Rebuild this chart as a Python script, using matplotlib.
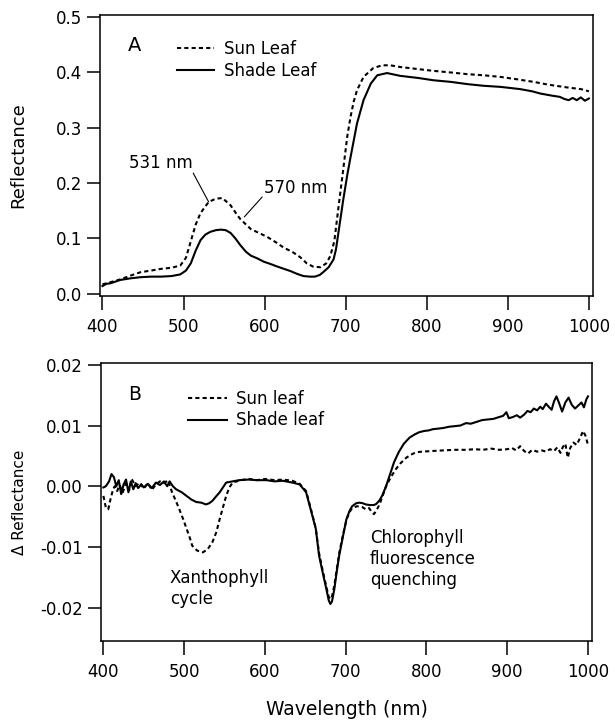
import numpy as np
import matplotlib
matplotlib.use("Agg")
import matplotlib.pyplot as plt

plt.rcParams['font.family'] = ['DejaVu Sans']
plt.rcParams['axes.unicode_minus'] = False

# ---- Panel A: reflectance spectra ----
wl_sun_a = [400, 410, 422, 435, 447, 460, 472, 485, 496, 503, 509, 515, 521, 531,
            540, 548, 558, 565, 570, 583, 593, 603, 614, 624, 634, 644, 652, 660,
            669, 676, 681, 686, 691, 697, 702, 706, 710, 714, 722, 734, 745, 755,
            767, 790, 808, 830, 850, 870, 891, 910, 932, 950, 973, 990, 1000]
refl_sun = [0.017, 0.021, 0.026, 0.033, 0.039, 0.042, 0.045, 0.047, 0.051, 0.065,
            0.095, 0.125, 0.146, 0.166, 0.172, 0.173, 0.160, 0.145, 0.135, 0.117,
            0.110, 0.103, 0.093, 0.083, 0.076, 0.066, 0.055, 0.049, 0.048, 0.055,
            0.068, 0.095, 0.155, 0.225, 0.285, 0.320, 0.348, 0.368, 0.392, 0.408,
            0.413, 0.413, 0.410, 0.406, 0.403, 0.400, 0.397, 0.395, 0.392, 0.388,
            0.383, 0.378, 0.373, 0.370, 0.366]

wl_shade_a = [400, 405, 410, 422, 435, 447, 460, 472, 485, 496, 503, 509, 515, 521,
              527, 533, 540, 546, 552, 558, 564, 570, 577, 583, 591, 599, 607, 616,
              624, 632, 640, 648, 656, 662, 668, 673, 679, 685, 688, 691, 697, 702,
              706, 714, 722, 731, 739, 751, 767, 790, 808, 830, 850, 870, 891, 915,
              930, 940, 955, 964, 970, 975, 980, 985, 990, 995, 1000]
refl_shade = [0.014, 0.018, 0.019, 0.025, 0.028, 0.030, 0.031, 0.031, 0.032, 0.035,
              0.042, 0.055, 0.078, 0.097, 0.107, 0.112, 0.115, 0.116, 0.115, 0.110,
              0.100, 0.088, 0.076, 0.069, 0.064, 0.058, 0.054, 0.049, 0.045, 0.041,
              0.036, 0.032, 0.031, 0.031, 0.034, 0.040, 0.048, 0.062, 0.080, 0.110,
              0.170, 0.215, 0.247, 0.308, 0.350, 0.380, 0.395, 0.399, 0.394, 0.390,
              0.386, 0.383, 0.379, 0.376, 0.374, 0.370, 0.366, 0.362, 0.358, 0.356,
              0.352, 0.350, 0.354, 0.350, 0.355, 0.349, 0.353]

# ---- Panel B: delta reflectance ----
wl_sun_b = [400, 403, 406, 409, 412, 414, 417, 420, 424, 428, 432, 435, 440, 445,
            450, 455, 460, 465, 470, 475, 480, 485, 490, 494, 499, 503, 507, 510,
            516, 523, 529, 535, 540, 544, 548, 552, 556, 560, 570, 580, 590, 600,
            612, 622, 634, 643, 651, 659, 663, 667, 672, 676, 679, 681, 683, 686,
            689, 692, 697, 701, 705, 708, 714, 720, 725, 729, 732, 735, 738, 742,
            746, 750, 756, 762, 768, 775, 781, 787, 795, 807, 820, 835, 849, 860,
            870, 880, 890, 900, 906, 911, 916, 921, 926, 931, 937, 943, 948, 953,
            958, 962, 966, 969, 972, 975, 978, 982, 986, 990, 994, 997, 1000]
dref_sun = [-0.0016, -0.0035, -0.0038, -0.0020, -0.0005, 0.0000, -0.0008, 0.0002,
            -0.0010, 0.0005, -0.0006, 0.0012, 0.0000, 0.0006, -0.0004, 0.0005,
            -0.0006, 0.0003, 0.0008, 0.0005, 0.0010, -0.0010, -0.0025, -0.0038,
            -0.0055, -0.0070, -0.0085, -0.0098, -0.0106, -0.0109, -0.0104, -0.0092,
            -0.0075, -0.0054, -0.0035, -0.0016, -0.0002, 0.0006, 0.0010, 0.0012,
            0.0010, 0.0012, 0.0010, 0.0011, 0.0009, 0.0004, -0.0008, -0.0048,
            -0.0070, -0.0110, -0.0142, -0.0165, -0.0182, -0.0186, -0.0182, -0.0163,
            -0.0136, -0.0110, -0.0078, -0.0055, -0.0042, -0.0036, -0.0033, -0.0034,
            -0.0038, -0.0036, -0.0042, -0.0046, -0.0040, -0.0030, -0.0015, 0.0000,
            0.0015, 0.0028, 0.0038, 0.0047, 0.0052, 0.0056, 0.0057, 0.0058, 0.0059,
            0.0060, 0.0060, 0.0061, 0.0060, 0.0062, 0.0060, 0.0061, 0.0063, 0.0059,
            0.0066, 0.0058, 0.0054, 0.0060, 0.0057, 0.0059, 0.0057, 0.0061, 0.0058,
            0.0064, 0.0055, 0.0065, 0.0070, 0.0047, 0.0063, 0.0072, 0.0068, 0.0079,
            0.0091, 0.0083, 0.0068]

wl_shade_b = [400, 403, 407, 410, 413, 416, 419, 422, 425, 428, 431, 434, 437, 440,
              443, 447, 450, 455, 460, 465, 470, 475, 479, 482, 486, 490, 497, 503,
              509, 515, 521, 527, 531, 535, 540, 544, 548, 552, 560, 568, 580, 590,
              602, 612, 622, 634, 643, 651, 659, 663, 667, 672, 676, 679, 681, 683,
              686, 689, 692, 697, 701, 705, 708, 713, 717, 721, 725, 730, 735, 738,
              742, 745, 750, 754, 760, 766, 772, 779, 785, 791, 797, 803, 808, 815,
              821, 828, 835, 842, 849, 855, 862, 869, 876, 883, 890, 895, 899, 902,
              907, 912, 916, 921, 925, 929, 933, 937, 941, 944, 948, 952, 955, 958,
              961, 964, 968, 972, 976, 980, 984, 988, 992, 995, 998, 1000]
dref_shade = [-0.0002, 0.0000, 0.0008, 0.0020, 0.0015, 0.0000, 0.0010, -0.0013,
              0.0003, 0.0011, -0.0010, 0.0008, -0.0005, 0.0005, -0.0003, 0.0003,
              -0.0002, 0.0004, -0.0003, 0.0006, 0.0002, 0.0008, 0.0000, 0.0008,
              0.0000, -0.0005, -0.0010, -0.0016, -0.0022, -0.0026, -0.0027, -0.0030,
              -0.0028, -0.0024, -0.0016, -0.0010, -0.0002, 0.0006, 0.0008, 0.0010,
              0.0011, 0.0010, 0.0010, 0.0008, 0.0009, 0.0006, 0.0003, -0.0010,
              -0.0050, -0.0070, -0.0114, -0.0145, -0.0169, -0.0188, -0.0194, -0.0190,
              -0.0169, -0.0140, -0.0114, -0.0080, -0.0054, -0.0040, -0.0033, -0.0028,
              -0.0027, -0.0028, -0.0030, -0.0031, -0.0031, -0.0029, -0.0023, -0.0016,
              0.0000, 0.0016, 0.0040, 0.0057, 0.0070, 0.0080, 0.0085, 0.0089, 0.0091,
              0.0092, 0.0094, 0.0095, 0.0096, 0.0098, 0.0099, 0.0100, 0.0104, 0.0103,
              0.0106, 0.0109, 0.0110, 0.0111, 0.0114, 0.0116, 0.0122, 0.0112, 0.0114,
              0.0117, 0.0113, 0.0118, 0.0124, 0.0122, 0.0128, 0.0125, 0.0131, 0.0127,
              0.0136, 0.0130, 0.0126, 0.0140, 0.0148, 0.0138, 0.0123, 0.0138, 0.0146,
              0.0134, 0.0128, 0.0133, 0.0138, 0.0130, 0.0143, 0.0148]

xticks = [400, 500, 600, 700, 800, 900, 1000]
yticks_a = [0.0, 0.1, 0.2, 0.3, 0.4, 0.5]
yticks_b = [-0.02, -0.01, 0.00, 0.01, 0.02]

dash = (0, (2, 1.5))
lw = 1.5

fig = plt.figure(figsize=(6.15, 7.23), dpi=100)
ax_a = fig.add_axes([0.1626, 0.5906, 0.8016, 0.3887])
ax_b = fig.add_axes([0.1642, 0.1134, 0.7984, 0.3845])

for ax in (ax_a, ax_b):
    ax.set_xlim(397, 1005)
    ax.set_xticks(xticks)
    for s in ax.spines.values():
        s.set_linewidth(1.1)
    ax.tick_params(axis='x', direction='out', length=10, width=1.1, pad=6, labelsize=12)
    ax.tick_params(axis='y', direction='out', length=9.5, width=1.1, pad=3.5, labelsize=12)

# panel A
ax_a.plot(wl_sun_a, refl_sun, color='black', lw=lw, linestyle=dash, label='Sun Leaf')
ax_a.plot(wl_shade_a, refl_shade, color='black', lw=lw, label='Shade Leaf')
ax_a.set_ylim(-0.004, 0.504)
ax_a.set_yticks(yticks_a)
ax_a.set_yticklabels([f"{v:.1f}" for v in yticks_a])
ax_a.set_ylabel('Reflectance', fontsize=13)
ax_a.yaxis.set_label_coords(-0.148, 0.5)
ax_a.text(0.071, 0.893, 'A', transform=ax_a.transAxes, fontsize=14,
          ha='center', va='center')
ax_a.legend(loc='upper left', bbox_to_anchor=(0.156, 0.911), frameon=False,
            fontsize=12, handlelength=2.2, handletextpad=0.65, labelspacing=0.22,
            borderpad=0, borderaxespad=0)

ax_a.text(512, 0.236, '531 nm', fontsize=12, ha='right', va='center')
ax_a.annotate('', xy=(531, 0.166), xytext=(512, 0.218),
              arrowprops=dict(arrowstyle='-', color='black', lw=0.8,
                              shrinkA=0, shrinkB=0))
ax_a.text(599, 0.191, '570 nm', fontsize=12, ha='left', va='center')
ax_a.annotate('', xy=(575, 0.139), xytext=(597, 0.175),
              arrowprops=dict(arrowstyle='-', color='black', lw=0.8,
                              shrinkA=0, shrinkB=0))

# panel B
ax_b.plot(wl_sun_b, dref_sun, color='black', lw=lw, linestyle=dash, label='Sun leaf')
ax_b.plot(wl_shade_b, dref_shade, color='black', lw=lw, label='Shade leaf')
ax_b.set_ylim(-0.0255, 0.0203)
ax_b.set_yticks(yticks_b)
ax_b.set_yticklabels([f"{v:.2f}" for v in yticks_b])
ax_b.set_ylabel('\u0394 Reflectance', fontsize=11)
ax_b.yaxis.set_label_coords(-0.15, 0.5)
ax_b.set_xlabel('Wavelength (nm)', fontsize=13.5)
ax_b.xaxis.set_label_coords(0.5, -0.213)
ax_b.text(0.069, 0.885, 'B', transform=ax_b.transAxes, fontsize=13.5,
          ha='center', va='center')
ax_b.legend(loc='upper left', bbox_to_anchor=(0.177, 0.904), frameon=False,
            fontsize=12, handlelength=2.35, handletextpad=0.55, labelspacing=0.22,
            borderpad=0, borderaxespad=0)

ax_b.text(482, -0.0137, 'Xanthophyll\ncycle', fontsize=12, ha='left', va='top')
ax_b.text(730, -0.0071, 'Chlorophyll\nfluorescence\nquenching', fontsize=12,
          ha='left', va='top')

fig.savefig('out.png', dpi=100)
